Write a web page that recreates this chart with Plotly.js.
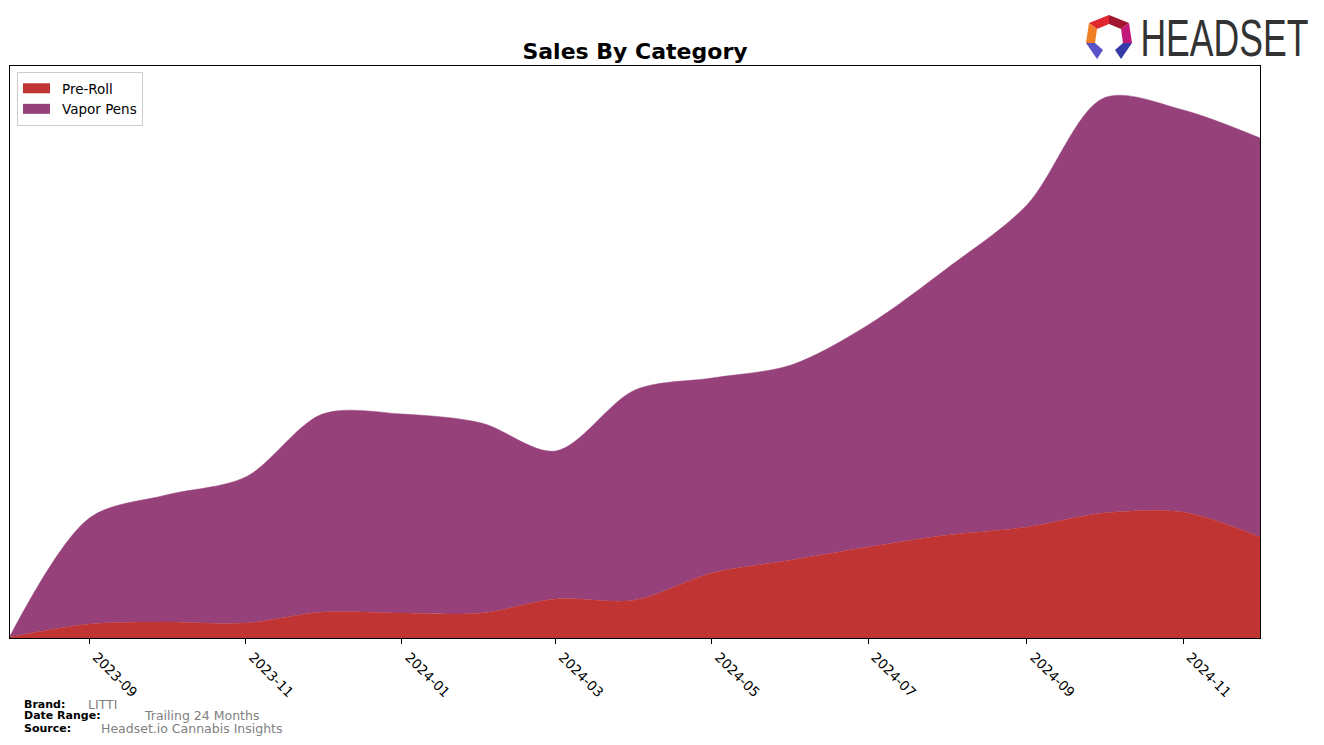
<!DOCTYPE html>
<html>
<head>
<meta charset="utf-8">
<script src="https://cdn.plot.ly/plotly-3.0.1.min.js"></script>
<style>
  html, body { margin: 0; padding: 0; background: #ffffff; }
  #chart { width: 1324px; height: 745px; }
</style>
</head>
<body>
<div id="chart"></div>
<script>
// ---- Data (arbitrary sales units) ----
const months = [
  "2023-08-01", "2023-09-01", "2023-10-01", "2023-11-01", "2023-12-01",
  "2024-01-01", "2024-02-01", "2024-03-01", "2024-04-01", "2024-05-01",
  "2024-06-01", "2024-07-01", "2024-08-01", "2024-09-01", "2024-10-01",
  "2024-11-01", "2024-12-01"
];
const preRoll = [1, 14, 16, 15, 26, 25, 25, 39, 38, 65, 78, 91, 103, 111, 125, 126, 101];
const vaporPens = [1, 106, 127, 146, 198, 199, 190, 148, 210, 195, 195, 222, 267, 322, 415, 402, 399];

const seriesNames = ["Pre-Roll", "Vapor Pens"];
const seriesColors = ["#C13434", "#96417A"];

const tickVals = ["2023-09-01", "2023-11-01", "2024-01-01", "2024-03-01",
                  "2024-05-01", "2024-07-01", "2024-09-01", "2024-11-01"];
const tickText = ["2023-09", "2023-11", "2024-01", "2024-03",
                  "2024-05", "2024-07", "2024-09", "2024-11"];

const footerLabels = ["Brand:", "Date Range:", "Source:"];
const footerValues = ["LITTI", "Trailing 24 Months", "Headset.io Cannabis Insights"];

// ---- Geometry helpers (plot area in pixels) ----
const W = 1324, H = 745;
const PL = 10, PR = 1260, PT = 66, PB = 638;
const px = x => (x - PL) / (PR - PL);
const py = y => (PB - y) / (PB - PT);

const traces = [preRoll, vaporPens].map((vals, i) => ({
  type: "scatter",
  mode: "lines",
  x: months,
  y: vals,
  name: seriesNames[i],
  stackgroup: "one",
  line: { shape: "spline", smoothing: 0.9, width: 0.5, color: seriesColors[i] },
  fillcolor: seriesColors[i],
  hoverinfo: "x+y+name"
}));

// Footer annotations
const footerX = [86, 142, 99];
const footerY = [704, 716, 728];
const annotations = [];
footerLabels.forEach((lab, i) => {
  annotations.push({
    xref: "paper", yref: "paper", x: px(22), y: py(footerY[i]),
    xanchor: "left", yanchor: "middle", showarrow: false,
    text: "<b>" + lab + "</b>",
    font: { family: "DejaVu Sans", size: 11, color: "#000000" }
  });
  annotations.push({
    xref: "paper", yref: "paper", x: px(footerX[i]), y: py(footerY[i]),
    xanchor: "left", yanchor: "middle", showarrow: false,
    text: footerValues[i],
    font: { family: "DejaVu Sans", size: 12.5, color: "#808080" }
  });
});
// Logo text
annotations.push({
  xref: "paper", yref: "paper", x: px(1224), y: py(38),
  xanchor: "center", yanchor: "middle", showarrow: false,
  text: "HEADSET",
  font: { family: "Liberation Sans, Arial, sans-serif", size: 37, color: "#333333" }
});

// Logo icon polygons (pixel coords -> paper coords)
function poly(pts, color) {
  const d = pts.map((p, k) => (k ? "L" : "M") + px(p[0]).toFixed(5) + "," + py(p[1]).toFixed(5)).join(" ") + " Z";
  return { type: "path", xref: "paper", yref: "paper", path: d, fillcolor: color, line: { width: 0 }, layer: "above" };
}
const shapes = [
  poly([[1089, 23], [1109, 15], [1109, 24], [1097, 29]], "#E0262F"),
  poly([[1109, 15], [1129, 23], [1121, 29], [1109, 24]], "#A3162F"),
  poly([[1129, 23], [1132, 43], [1123, 43], [1121, 29]], "#C4177A"),
  poly([[1089, 23], [1097, 29], [1095, 43], [1086, 43]], "#F07E22"),
  poly([[1086, 43], [1095, 43], [1103, 50], [1097, 59]], "#5A52C8"),
  poly([[1132, 43], [1123, 43], [1115, 50], [1121, 59]], "#343AA8")
];

const layout = {
  width: W, height: H,
  margin: { l: PL, r: W - PR, t: PT, b: H - PB, pad: 0 },
  paper_bgcolor: "#ffffff",
  plot_bgcolor: "#ffffff",
  title: {
    text: "<b>Sales By Category</b>",
    xref: "paper", x: 0.5, xanchor: "center",
    yref: "container", y: 1 - 51 / H, yanchor: "middle",
    font: { family: "DejaVu Sans", size: 22, color: "#000000" }
  },
  showlegend: true,
  legend: {
    x: px(17), y: py(72), xanchor: "left", yanchor: "top",
    traceorder: "normal",
    bgcolor: "rgba(255,255,255,0.8)",
    bordercolor: "#cccccc", borderwidth: 1,
    font: { family: "DejaVu Sans", size: 13.5, color: "#000000" },
    itemwidth: 34,
    tracegroupgap: 0
  },
  xaxis: {
    type: "date",
    range: ["2023-08-01", "2024-12-01"],
    tickvals: tickVals,
    ticktext: tickText,
    tickangle: 45,
    ticklabelshift: 7,
    ticks: "outside", ticklen: 5, tickwidth: 1, tickcolor: "#000000",
    tickfont: { family: "DejaVu Sans", size: 13.5, color: "#000000" },
    showgrid: false, zeroline: false,
    showline: true, linecolor: "#000000", linewidth: 1, mirror: true
  },
  yaxis: {
    range: [0, 572],
    showticklabels: false, ticks: "",
    showgrid: false, zeroline: false,
    showline: true, linecolor: "#000000", linewidth: 1, mirror: true
  },
  annotations: annotations,
  shapes: shapes
};

Plotly.newPlot("chart", traces, layout, { displayModeBar: false, staticPlot: true }).then(() => {
  // condense and heighten the logo word to match the reference lettering
  document.querySelectorAll(".annotation-text").forEach(t => {
    if (t.textContent.trim() === "HEADSET") {
      t.setAttribute("textLength", "168");
      t.setAttribute("lengthAdjust", "spacingAndGlyphs");
      const b = t.getBBox();
      const cx = b.x + b.width / 2, cy = b.y + b.height / 2;
      t.setAttribute("transform",
        "translate(" + cx + "," + cy + ") scale(1,1.38) translate(" + (-cx) + "," + (-cy) + ")");
    }
  });
  // legend symbols as rectangular patches, like the reference
  document.querySelectorAll(".legend .legendfill path").forEach(p => {
    p.setAttribute("d", "M5,-5h27v10h-27z");
  });
  document.querySelectorAll(".legend .legendlines path").forEach(p => {
    p.style.strokeWidth = "0px";
  });
});
</script>
</body>
</html>
